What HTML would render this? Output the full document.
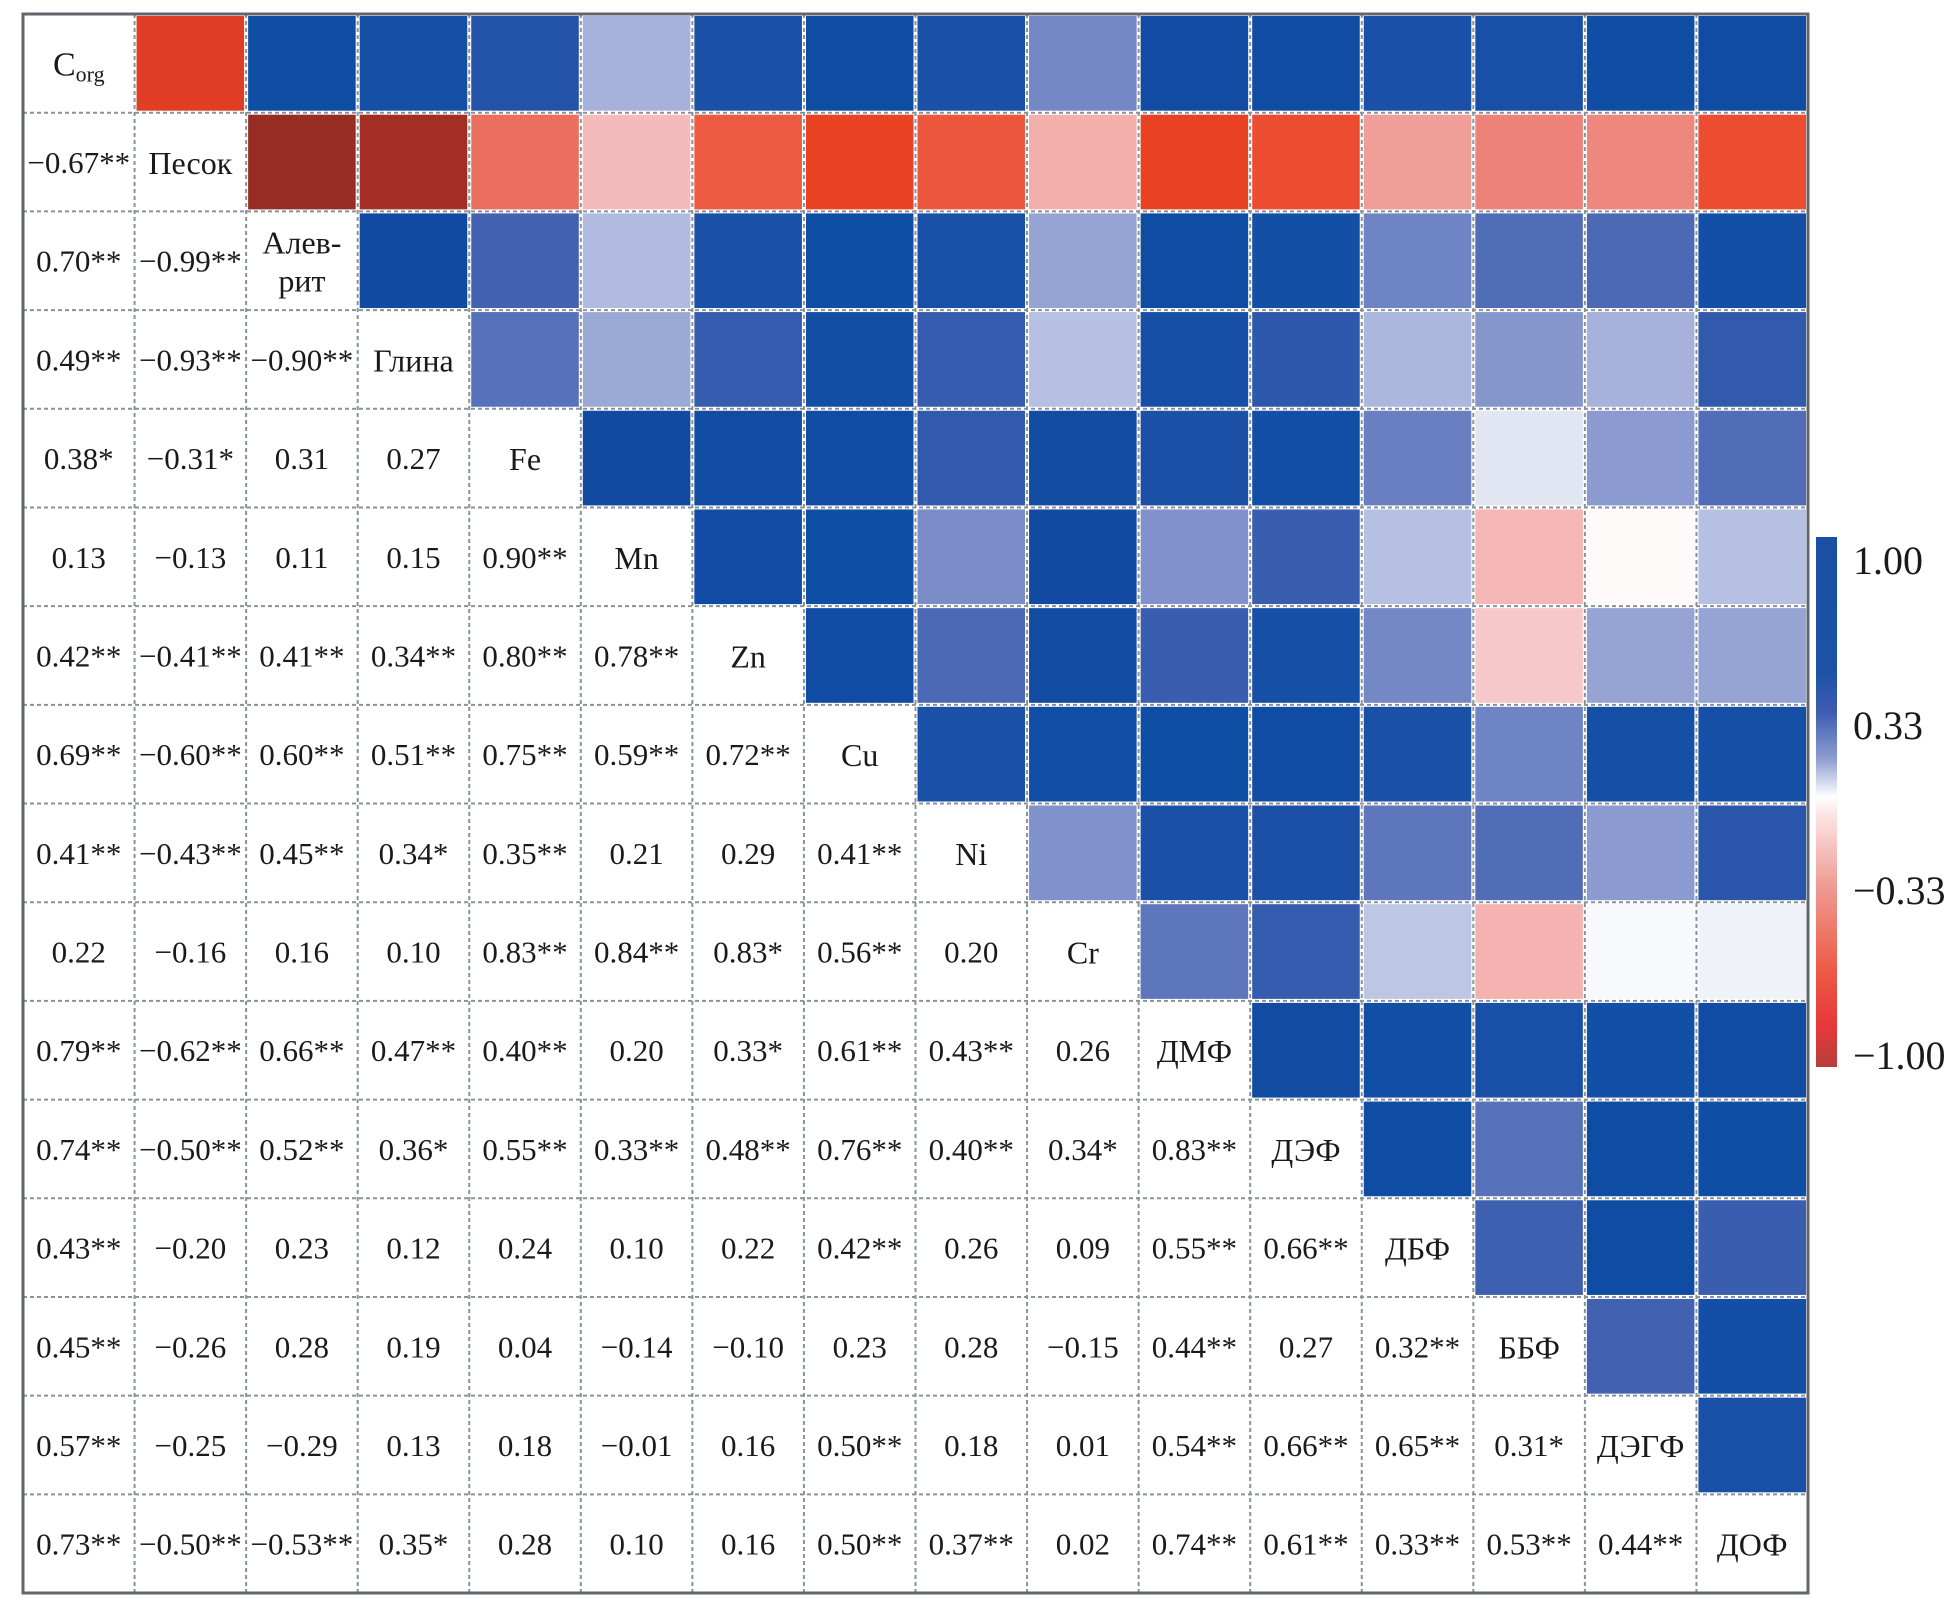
<!DOCTYPE html>
<html><head><meta charset="utf-8">
<style>
html,body{margin:0;padding:0;background:#fff;}
svg{display:block;}
text{font-family:"Liberation Serif","DejaVu Serif",serif;fill:#1a1a1a;}
</style></head>
<body>
<svg id="chart" width="1950" height="1608" viewBox="0 0 1950 1608">
<defs>
<linearGradient id="cbar" x1="0" y1="0" x2="0" y2="1">
<stop offset="0" stop-color="#1a4fa3"/>
<stop offset="0.25" stop-color="#1b52a6"/>
<stop offset="0.33" stop-color="#3c5cb0"/>
<stop offset="0.42" stop-color="#8f9fd2"/>
<stop offset="0.49" stop-color="#ffffff"/>
<stop offset="0.52" stop-color="#fde6e6"/>
<stop offset="0.66" stop-color="#ef9a92"/>
<stop offset="0.82" stop-color="#ec5a45"/>
<stop offset="0.92" stop-color="#e8383a"/>
<stop offset="1" stop-color="#b83d3d"/>
</linearGradient>
</defs>
<g id="cells"></g>
<g id="colorbar">
<rect x="1816" y="537" width="21" height="530" fill="url(#cbar)"/>
<text x="1853" y="574" font-size="40">1.00</text>
<text x="1853" y="739" font-size="40">0.33</text>
<text x="1853" y="904" font-size="40">−0.33</text>
<text x="1853" y="1069" font-size="40">−1.00</text>
</g>
</svg>
<script>
const variables = ["Corg","Песок","Алеврит","Глина","Fe","Mn","Zn","Cu","Ni","Cr","ДМФ","ДЭФ","ДБФ","ББФ","ДЭГФ","ДОФ"];
// printed lower-triangle labels (row i, cols 0..i-1)
const printed = [
[],
["−0.67**"],
["0.70**","−0.99**"],
["0.49**","−0.93**","−0.90**"],
["0.38*","−0.31*","0.31","0.27"],
["0.13","−0.13","0.11","0.15","0.90**"],
["0.42**","−0.41**","0.41**","0.34**","0.80**","0.78**"],
["0.69**","−0.60**","0.60**","0.51**","0.75**","0.59**","0.72**"],
["0.41**","−0.43**","0.45**","0.34*","0.35**","0.21","0.29","0.41**"],
["0.22","−0.16","0.16","0.10","0.83**","0.84**","0.83*","0.56**","0.20"],
["0.79**","−0.62**","0.66**","0.47**","0.40**","0.20","0.33*","0.61**","0.43**","0.26"],
["0.74**","−0.50**","0.52**","0.36*","0.55**","0.33**","0.48**","0.76**","0.40**","0.34*","0.83**"],
["0.43**","−0.20","0.23","0.12","0.24","0.10","0.22","0.42**","0.26","0.09","0.55**","0.66**"],
["0.45**","−0.26","0.28","0.19","0.04","−0.14","−0.10","0.23","0.28","−0.15","0.44**","0.27","0.32**"],
["0.57**","−0.25","−0.29","0.13","0.18","−0.01","0.16","0.50**","0.18","0.01","0.54**","0.66**","0.65**","0.31*"],
["0.73**","−0.50**","−0.53**","0.35*","0.28","0.10","0.16","0.50**","0.37**","0.02","0.74**","0.61**","0.33**","0.53**","0.44**"]
];
// values used for colouring the upper triangle (row i, cols 0..i-1)
const colorValues = [
[],
[-0.67],
[0.70,-0.99],
[0.49,-0.93,0.90],
[0.38,-0.31,0.31,0.27],
[0.13,-0.13,0.11,0.15,0.90],
[0.42,-0.41,0.41,0.34,0.80,0.78],
[0.69,-0.60,0.60,0.51,0.75,0.59,0.72],
[0.41,-0.43,0.45,0.34,0.35,0.21,0.29,0.41],
[0.22,-0.16,0.16,0.10,0.83,0.84,0.83,0.56,0.20],
[0.79,-0.62,0.66,0.47,0.40,0.20,0.33,0.61,0.43,0.26],
[0.74,-0.50,0.52,0.36,0.55,0.33,0.48,0.76,0.40,0.34,0.83],
[0.43,-0.20,0.23,0.12,0.24,0.10,0.22,0.42,0.26,0.09,0.55,0.66],
[0.45,-0.26,0.28,0.19,0.04,-0.14,-0.10,0.23,0.28,-0.15,0.44,0.27,0.32],
[0.57,-0.25,0.29,0.13,0.18,-0.01,0.16,0.50,0.18,0.01,0.54,0.66,0.65,0.31],
[0.73,-0.50,0.53,0.35,0.28,0.10,0.16,0.50,0.37,0.02,0.74,0.61,0.33,0.53,0.44]
];

const NS="http://www.w3.org/2000/svg";
const G={x0:23,y0:14,x1:1808,y1:1593};
const n=variables.length;
const cw=(G.x1-G.x0)/n, ch=(G.y1-G.y0)/n;
function xPos(j){return G.x0+j*cw;}
function yPos(i){return G.y0+i*ch;}
const stops=[
[-1,[150,44,34]],[-0.9,[172,47,37]],[-0.8,[200,55,40]],[-0.6,[236,66,36]],[-0.45,[236,82,55]],
[-0.3,[236,112,98]],[-0.2,[240,158,152]],[-0.1,[247,200,202]],[0,[255,255,255]],
[0.1,[182,192,226]],[0.2,[128,145,203]],[0.3,[70,100,178]],[0.4,[28,80,167]],[0.6,[14,78,165]],[1,[20,72,160]]];
function colorScale(v){
  for(let k=0;k<stops.length-1;k++){
    const a=stops[k],b=stops[k+1];
    if(v>=a[0]&&v<=b[0]){const t=(v-a[0])/(b[0]-a[0]);
      return "rgb("+a[1].map((c,m)=>Math.round(c+(b[1][m]-c)*t)).join(",")+")";}
  }
  return v<0?"rgb(150,44,34)":"rgb(20,72,160)";
}
const cells=document.getElementById('cells');
function mk(tag,attrs){const e=document.createElementNS(NS,tag);for(const k in attrs)e.setAttribute(k,attrs[k]);return e;}

const bg=mk('rect',{x:G.x0,y:G.y0,width:G.x1-G.x0,height:G.y1-G.y0,fill:'#fff'});


cells.appendChild(bg);

for(let i=0;i<n;i++){for(let j=0;j<i;j++){
  const r=mk('rect',{x:xPos(i)+2,y:yPos(j)+2,width:cw-4,height:ch-4,fill:colorScale(colorValues[i][j])});
  
  
  cells.appendChild(r);
}}
for(let k=1;k<n;k++){
  const v=mk('line',{x1:xPos(k),y1:G.y0,x2:xPos(k),y2:G.y1,stroke:'#8a9299','stroke-width':2,'stroke-dasharray':'4 3'});
  
  
  cells.appendChild(v);
  const h=mk('line',{x1:G.x0,y1:yPos(k),x2:G.x1,y2:yPos(k),stroke:'#8a9299','stroke-width':2,'stroke-dasharray':'4 3'});
  
  
  cells.appendChild(h);
}
for(let i=0;i<n;i++){for(let j=0;j<i;j++){
  const t=mk('text',{x:xPos(j)+cw/2,y:yPos(i)+ch/2+11,'font-size':31,'text-anchor':'middle'});
  t.textContent=printed[i][j];
  
  
  cells.appendChild(t);
}}
for(let i=0;i<n;i++){
  const cx=xPos(i)+cw/2, cy=yPos(i)+ch/2;
  let t;
  if(i===0){
    t=mk('text',{x:cx,y:cy+12,'font-size':34,'text-anchor':'middle'});
    t.textContent='C';
    const s=mk('tspan',{'font-size':22,dy:6});s.textContent='org';t.appendChild(s);
  } else if(variables[i]==='Алеврит'){
    t=mk('text',{x:cx,y:cy-7,'font-size':32,'text-anchor':'middle'});
    const a=mk('tspan',{x:cx});a.textContent='Алев-';t.appendChild(a);
    const b=mk('tspan',{x:cx,dy:38});b.textContent='рит';t.appendChild(b);
  } else {
    t=mk('text',{x:cx,y:cy+12,'font-size':32,'text-anchor':'middle'});
    t.textContent=variables[i];
  }
  
  
  cells.appendChild(t);
}
const bd=mk('rect',{x:G.x0,y:G.y0,width:G.x1-G.x0,height:G.y1-G.y0,fill:'none',stroke:'#5f666c','stroke-width':3});


cells.appendChild(bd);
</script>
</body></html>
